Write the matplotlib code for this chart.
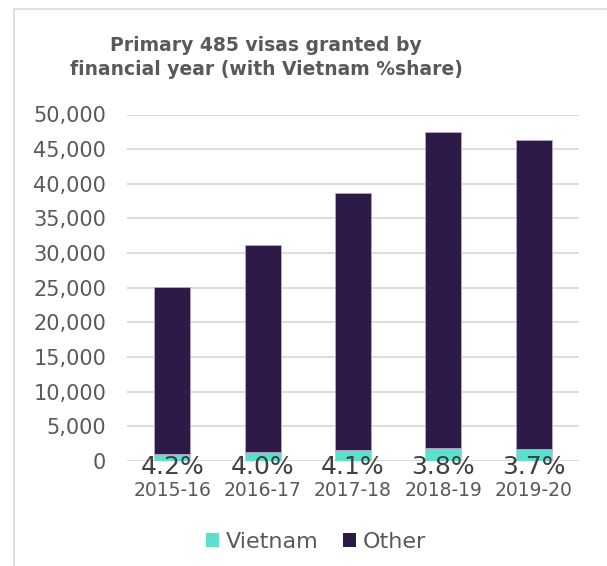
import matplotlib
matplotlib.use("Agg")
import matplotlib.pyplot as plt
from matplotlib.patches import Rectangle
from matplotlib.ticker import FuncFormatter

years = ["2015-16", "2016-17", "2017-18", "2018-19", "2019-20"]
vietnam = [1054, 1248, 1586, 1805, 1715]
other = [24046, 29952, 37104, 45665, 44635]
share_labels = ["4.2%", "4.0%", "4.1%", "3.8%", "3.7%"]
yticks = [0, 5000, 10000, 15000, 20000, 25000, 30000, 35000, 40000, 45000, 50000]

c_viet = "#5BE0CB"
c_other = "#2E1A47"
c_text = "#595959"
c_grid = "#D9D9D9"

plt.rcParams['font.family'] = ['DejaVu Sans']

W, H = 607, 566
fig = plt.figure(figsize=(W / 100, H / 100), dpi=100)

# outer border
fig.patches.append(Rectangle((14 / W, -0.01), 1.0, 1 - 9 / H + 0.01,
                             transform=fig.transFigure, fill=False,
                             edgecolor="#D9D9D9", linewidth=1.2, zorder=0))

ax = fig.add_axes([127 / W, 1 - 461 / H, (579 - 127) / W, (461 - 114.5) / H])
x = list(range(len(years)))
ax.bar(x, vietnam, width=0.4, color=c_viet, edgecolor="#C9BEDB", linewidth=0.6,
       label="Vietnam", zorder=3)
ax.bar(x, other, width=0.4, bottom=vietnam, color=c_other, edgecolor="#B7A8CF",
       linewidth=0.6, label="Other", zorder=3)

ax.set_xlim(-0.5, len(years) - 0.5)
ax.set_ylim(0, 50000)
ax.set_yticks(yticks)
ax.yaxis.set_major_formatter(FuncFormatter(lambda v, p: f"{int(v):,}"))
ax.tick_params(axis="y", length=0, pad=15, labelsize=15, labelcolor=c_text)
ax.set_xticks(x)
ax.set_xticklabels(years)
ax.tick_params(axis="x", length=0, pad=14.5, labelsize=13.5, labelcolor=c_text)
ax.grid(axis="y", color=c_grid, linewidth=1.3, zorder=0)
for s in ax.spines.values():
    s.set_visible(False)

for i, lab in enumerate(share_labels):
    ax.annotate(lab, (i, 0), xytext=(0, -4.5), textcoords="offset points",
                ha="center", va="center", fontsize=18, color="#404040", zorder=5)

fig.text(266 / W, 1 - 57.5 / H, "Primary 485 visas granted by\nfinancial year (with Vietnam %share)",
         ha="center", va="center", fontsize=13.5, fontweight="bold", color=c_text,
         linespacing=1.35)

leg = fig.legend(loc="center", bbox_to_anchor=(316 / W, 1 - 542 / H), ncol=2,
                 frameon=False, fontsize=16, labelcolor=c_text, handlelength=0.6,
                 handleheight=0.6, handletextpad=0.3, columnspacing=1.1)
for h in leg.legend_handles:
    h.set_edgecolor("none")

fig.savefig("out.png", dpi=100)
